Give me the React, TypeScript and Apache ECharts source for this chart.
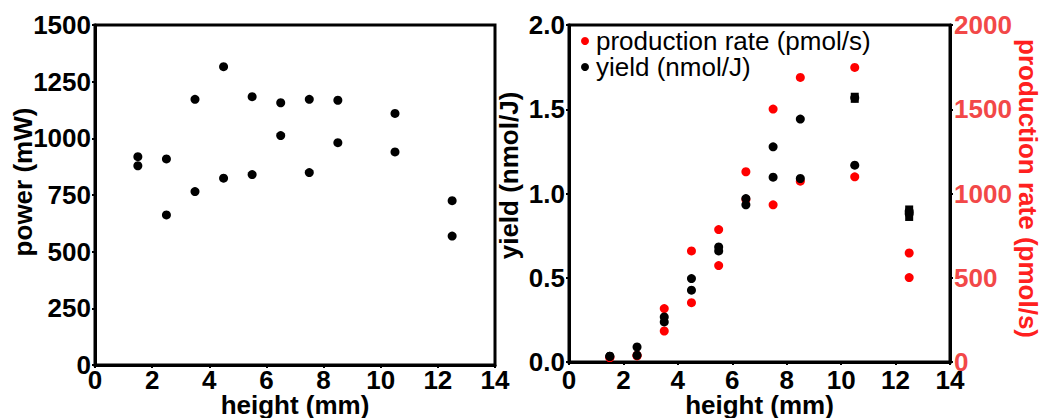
import React, { useEffect, useRef } from "react";
import * as echarts from "echarts";

// ---- data ----
const heights = [1.5, 1.5, 2.5, 2.5, 3.5, 3.5, 4.5, 4.5, 5.5, 5.5, 6.5, 6.5, 7.5, 7.5, 8.5, 8.5, 10.5, 10.5, 12.5, 12.5];
const power = [919, 879, 909, 662, 1172, 765, 1316, 824, 1184, 840, 1157, 1012, 1172, 849, 1168, 981, 1110, 940, 725, 569];
const yieldVals = [0.034, 0.034, 0.089, 0.040, 0.267, 0.238, 0.495, 0.426, 0.683, 0.659, 0.970, 0.933, 1.277, 1.097, 1.442, 1.089, 1.568, 1.168, 0.895, 0.880];
const productionRate = [26, 26, 36, 40, 317, 184, 659, 352, 786, 572, 1129, 965, 1501, 933, 1689, 1073, 1748, 1099, 647, 501];
const errHeights = [10.5, 12.5];
const errCenters = [1.568, 0.883];
const errHalf = [0.03, 0.046];
const xTicks = { min: 0, max: 14, interval: 2 };
const powerTicks = { min: 0, max: 1500, interval: 250 };
const yieldTicks = { min: 0, max: 2, interval: 0.5 };
const rateTicks = { min: 0, max: 2000, interval: 500 };

const FONT = "'Liberation Sans', Arial, sans-serif";
const RED = "#ff0000";
const RED_LABEL = "#f24848";

const boldText = (color = "#000") => ({
  fontSize: 26,
  fontWeight: "bold" as const,
  fontFamily: FONT,
  color,
});

const axisLine = { show: true, onZero: false, lineStyle: { color: "#000", width: 3 } };
const axisTick = { show: true, inside: false, length: 3, lineStyle: { color: "#000", width: 2 } };
const plain = (v: number) => String(v);

export default function App() {
  const ref = useRef<HTMLDivElement>(null);

  useEffect(() => {
    if (!ref.current) return;
    const chart = echarts.init(ref.current, undefined, { renderer: "svg" });

    const pts = (ys: number[]) => heights.map((h, i) => [h, ys[i]]);

    chart.setOption({
      animation: false,
      backgroundColor: "#fff",
      grid: [
        { left: 95, top: 25, width: 400, height: 340, outerBoundsMode: "none", containLabel: false, show: true, borderColor: "#000", borderWidth: 3, backgroundColor: "transparent" },
        { left: 569, top: 25, width: 381, height: 337, outerBoundsMode: "none", containLabel: false, show: true, borderColor: "#000", borderWidth: 3, backgroundColor: "transparent" },
      ],
      legend: {
        data: ["production rate (pmol/s)", "yield (nmol/J)"],
        orient: "vertical",
        left: 581,
        top: 28,
        padding: 0,
        itemWidth: 8,
        itemHeight: 8,
        itemGap: 0,
        textStyle: { fontSize: 26, lineHeight: 24, fontFamily: FONT, color: "#000", padding: [0, 0, 0, 2] },
      },
      xAxis: [
        {
          type: "value", gridIndex: 0, ...xTicks,
          axisLine, axisTick, splitLine: { show: false },
          axisLabel: { ...boldText(), margin: 2, formatter: plain },
          name: "height (mm)", nameLocation: "middle", nameGap: 27, nameMoveOverlap: false,
          nameTextStyle: boldText(),
        },
        {
          type: "value", gridIndex: 1, ...xTicks,
          axisLine, axisTick, splitLine: { show: false },
          axisLabel: { ...boldText(), margin: 5, formatter: plain },
          name: "height (mm)", nameLocation: "middle", nameGap: 30, nameMoveOverlap: false,
          nameTextStyle: boldText(),
        },
      ],
      yAxis: [
        {
          type: "value", gridIndex: 0, ...powerTicks,
          axisLine, axisTick, splitLine: { show: false },
          axisLabel: { ...boldText(), margin: 4, formatter: plain },
          name: "power (mW)", nameLocation: "middle", nameGap: 59, nameRotate: 90, nameMoveOverlap: false,
          nameTextStyle: { ...boldText(), padding: [0, 0, 0, 26] },
        },
        {
          type: "value", gridIndex: 1, position: "left", ...yieldTicks,
          axisLine, axisTick, splitLine: { show: false },
          axisLabel: { ...boldText(), margin: 4, formatter: (v: number) => v.toFixed(1) },
          name: "yield (nmol/J)", nameLocation: "middle", nameGap: 47, nameRotate: 90, nameMoveOverlap: false,
          nameTextStyle: { ...boldText(), padding: [0, 0, 0, 36] },
        },
        {
          type: "value", gridIndex: 1, position: "right", ...rateTicks,
          axisLine, axisTick, splitLine: { show: false },
          axisLabel: { ...boldText(RED_LABEL), margin: 4, formatter: plain },
          name: "production rate (pmol/s)", nameLocation: "middle", nameGap: 65, nameRotate: -90, nameMoveOverlap: false,
          nameTextStyle: { ...boldText("#ff2020"), padding: [0, 10, 0, 0] },
        },
      ],
      series: [
        {
          name: "power", type: "scatter", xAxisIndex: 0, yAxisIndex: 0,
          symbol: "circle", symbolSize: 9, itemStyle: { color: "#000", opacity: 1 },
          data: pts(power),
        },
        {
          name: "production rate (pmol/s)", type: "scatter", xAxisIndex: 1, yAxisIndex: 2,
          symbol: "circle", symbolSize: 9, itemStyle: { color: RED, opacity: 1 },
          data: pts(productionRate),
        },
        {
          name: "yield (nmol/J)", type: "scatter", xAxisIndex: 1, yAxisIndex: 1,
          symbol: "circle", symbolSize: 9, itemStyle: { color: "#000", opacity: 1 },
          data: pts(yieldVals),
        },
        {
          name: "yield error", type: "custom", xAxisIndex: 1, yAxisIndex: 1,
          data: errHeights.map((h, i) => [h, errCenters[i], errHalf[i]]),
          renderItem: (_p: any, api: any) => {
            const x = api.value(0);
            const y = api.value(1);
            const e = api.value(2);
            const top = api.coord([x, y + e]);
            const bot = api.coord([x, y - e]);
            return {
              type: "rect",
              shape: { x: top[0] - 4, y: top[1], width: 8, height: bot[1] - top[1] },
              style: { fill: "#000" },
            };
          },
        },
      ],
    });

    return () => chart.dispose();
  }, []);

  return (
    <div
      ref={ref}
      style={{ position: "absolute", left: 0, top: 0, width: 1043, height: 418 }}
    />
  );
}
